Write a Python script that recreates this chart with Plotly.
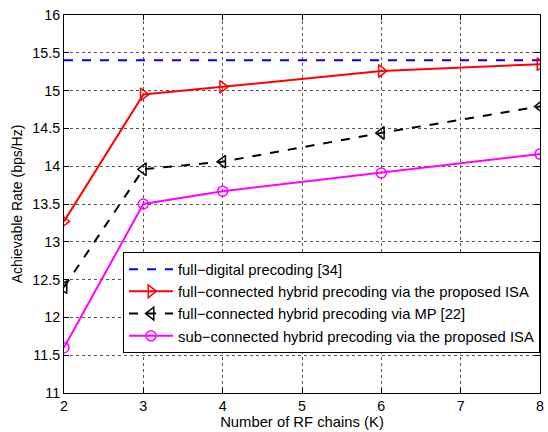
import plotly.graph_objects as go

K = [2, 3, 4, 6, 8]
full_digital = [15.4, 15.4, 15.4, 15.4, 15.4]
full_isa = [13.27, 14.95, 15.05, 15.26, 15.35]
full_mp = [12.4, 13.96, 14.06, 14.44, 14.79]
sub_isa = [11.6, 13.5, 13.67, 13.91, 14.16]

names = [
    "full\u2212digital precoding [34]",
    "full\u2212connected hybrid precoding via the proposed ISA",
    "full\u2212connected hybrid precoding via MP [22]",
    "sub\u2212connected hybrid precoding via the proposed ISA",
]

FONT = "Liberation Sans, Arial"

fig = go.Figure()
fig.add_trace(go.Scatter(x=K, y=full_digital, mode="lines", name=names[0],
                         line=dict(color="#0000ff", width=2, dash="dash")))
fig.add_trace(go.Scatter(x=K, y=full_isa, mode="lines+markers", name=names[1],
                         line=dict(color="#ff0000", width=2),
                         marker=dict(symbol="triangle-right-open", size=11, color="#ff0000",
                                     line=dict(width=1.5, color="#ff0000"))))
fig.add_trace(go.Scatter(x=K, y=full_mp, mode="lines+markers", name=names[2],
                         line=dict(color="#000000", width=2, dash="dash"),
                         marker=dict(symbol="triangle-left-open", size=11, color="#000000",
                                     line=dict(width=1.5, color="#000000"))))
fig.add_trace(go.Scatter(x=K, y=sub_isa, mode="lines+markers", name=names[3],
                         line=dict(color="#ff00ff", width=2),
                         marker=dict(symbol="circle-open", size=10, color="#ff00ff",
                                     line=dict(width=1.5, color="#ff00ff"))))

axis_common = dict(
    showline=True, linecolor="black", linewidth=1, mirror="allticks",
    ticks="inside", ticklen=5, tickcolor="black",
    showgrid=True, gridcolor="#555555", griddash="dot", gridwidth=1,
    zeroline=False, tickfont=dict(family=FONT, size=14.3, color="black"),
    ticklabeloverflow="allow",
)
fig.update_xaxes(range=[2, 8], tickvals=[2, 3, 4, 5, 6, 7, 8],
                 title=dict(text="Number of RF chains (K)", standoff=2,
                            font=dict(family=FONT, size=14.8, color="black")),
                 **axis_common)
fig.update_yaxes(range=[11, 16], tickvals=[11, 11.5, 12, 12.5, 13, 13.5, 14, 14.5, 15, 15.5, 16],
                 ticktext=["11", "11.5", "12", "12.5", "13", "13.5", "14", "14.5", "15", "15.5", "16"],
                 title=dict(text="Achievable Rate (bps/Hz)", standoff=6,
                            font=dict(family=FONT, size=14, color="black")),
                 **axis_common)

fig.update_layout(
    width=548, height=432,
    margin=dict(l=64, r=4, t=15, b=39),
    plot_bgcolor="white", paper_bgcolor="white",
    font=dict(family=FONT, size=12, color="black"),
    legend=dict(x=1.0, y=0.373, xanchor="right", yanchor="top",
                bgcolor="white", bordercolor="black", borderwidth=1,
                font=dict(family=FONT, size=14.8, color="black"),
                tracegroupgap=0, itemwidth=44),
    showlegend=True,
)

fig.write_html("out.html")
